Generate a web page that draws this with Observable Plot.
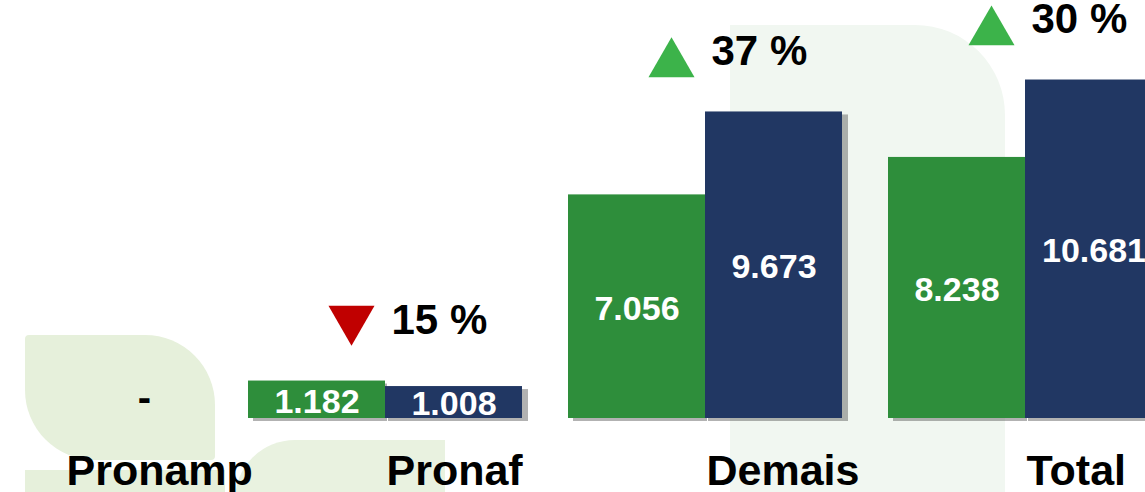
<!DOCTYPE html>
<html>
<head>
<meta charset="utf-8">
<script src="https://cdn.jsdelivr.net/npm/d3@7"></script>
<script src="https://cdn.jsdelivr.net/npm/@observablehq/plot@0.6"></script>
<style>
  html, body { margin: 0; padding: 0; background: #fff; }
  #wrap { position: relative; width: 1145px; height: 492px; overflow: hidden; }
  .wm { position: absolute; }
  #chart { position: absolute; left: 0; top: 0; }
</style>
</head>
<body>
<div id="wrap">
  <div class="wm" style="left:25px;top:335px;width:190px;height:125px;background:#e6f0db;border-radius:4px 70px 4px 70px;"></div>
  <div class="wm" style="left:25px;top:470px;width:200px;height:30px;background:#e6f0db;"></div>
  <div class="wm" style="left:235px;top:440px;width:210px;height:60px;background:#e9f2e0;border-radius:70px 0 0 0;"></div>
  <div class="wm" style="left:730px;top:25px;width:275px;height:470px;background:#f1f7f1;border-radius:0 90px 0 0;"></div>
  <div id="chart"></div>
</div>
<script>
// ---- data ----
const categories = ["Pronamp", "Pronaf", "Demais", "Total"];
const previous = [null, 1182, 7056, 8238];   // green series
const current  = [null, 1008, 9673, 10681];  // navy series
const changePct = [null, -15, 37, 30];        // variation shown above the bars

// ---- build tables ----
const fmt = d3.formatLocale({decimal: ",", thousands: ".", grouping: [3], currency: ["R$", ""]}).format(",d");
const prevRows = categories.map((c, i) => ({cat: c, value: previous[i]})).filter(d => d.value != null);
const currRows = categories.map((c, i) => ({cat: c, value: current[i]})).filter(d => d.value != null);
const groupRows = categories.map((c, i) => ({cat: c, top: current[i], prevTop: previous[i]})).filter(d => d.top != null);
const emptyRows = categories.map((c, i) => ({cat: c, v: previous[i]})).filter(d => d.v == null);
const chgRows = categories.map((c, i) => ({cat: c, top: Math.max(previous[i] ?? 0, current[i] ?? 0), pct: changePct[i]})).filter(d => d.pct != null);
const upRows = chgRows.filter(d => d.pct >= 0);
const downRows = chgRows.filter(d => d.pct < 0);

const GREEN = "#2e8e3b", NAVY = "#213763", UP = "#3cb34a", DOWN = "#c00000";
const FONT = "Liberation Sans, Arial, sans-serif";

const chart = Plot.plot({
  width: 1145,
  height: 492,
  marginTop: 0,
  marginBottom: 74,
  marginLeft: 0,
  marginRight: 0,
  style: {background: "transparent", fontFamily: FONT},
  x: {domain: categories, range: [-95, 1185], padding: 0, axis: null},
  y: {domain: [0, 13190], axis: null},
  marks: [
    // drop shadow behind each bar pair
    Plot.barY(groupRows, {x: "cat", y: "prevTop", insetLeft: 26, insetRight: 160, dx: 2, dy: 3, fill: "#555", fillOpacity: 0.45, ariaLabel: "shadow"}),
    Plot.barY(groupRows, {x: "cat", y: "top", insetLeft: 160, insetRight: 20, dx: 3, dy: 3, fill: "#555", fillOpacity: 0.45, ariaLabel: "shadow"}),
    Plot.barY(prevRows, {x: "cat", y: "value", insetLeft: 23, insetRight: 160, fill: GREEN}),
    Plot.barY(currRows, {x: "cat", y: "value", insetLeft: 160, insetRight: 23, fill: NAVY}),
    Plot.text(prevRows, {x: "cat", y: d => d.value / 2, text: d => fmt(d.value), dx: -68.5, dy: 2, fill: "white", fontSize: 34, fontWeight: "bold", clip: "frame"}),
    Plot.text(currRows, {x: "cat", y: d => d.value / 2, text: d => fmt(d.value), dx: 68.5, dy: 2, fill: "white", fontSize: 34, fontWeight: "bold", clip: "frame"}),
    Plot.text(emptyRows, {x: "cat", y: 0, text: () => "-", dx: 79, dy: -20, fill: "black", fontSize: 40, fontWeight: "bold"}),
    // variation markers
    Plot.dot(upRows, {x: "cat", y: "top", symbol: "triangle", r: 17.1, fill: UP, stroke: "none", dx: -34, dy: -48}),
    Plot.dot(downRows, {x: "cat", y: "top", symbol: "triangle", rotate: 180, r: 17.1, fill: DOWN, stroke: "none", dx: -34, dy: -62}),
    Plot.text(chgRows, {x: "cat", y: "top", text: d => `${Math.abs(d.pct)} %`, dx: 6, dy: -60, textAnchor: "start", fill: "black", fontSize: 42, fontWeight: "bold"}),
    // category labels
    Plot.text(categories, {x: d => d, y: 0, text: d => d, textAnchor: "start", dx: 1, dy: 53, fill: "black", fontSize: 43, fontWeight: "bold"})
  ]
});

const ns = "http://www.w3.org/2000/svg";
const defs = document.createElementNS(ns, "defs");
defs.innerHTML = '<filter id="sh" x="-10%" y="-10%" width="130%" height="130%"><feGaussianBlur stdDeviation="2"/></filter>';
chart.insertBefore(defs, chart.firstChild);
chart.querySelectorAll('g[aria-label="shadow"]').forEach(g => g.setAttribute("filter", "url(#sh)"));

document.getElementById("chart").appendChild(chart);
</script>
</body>
</html>
